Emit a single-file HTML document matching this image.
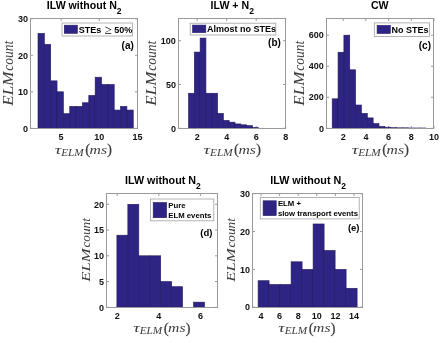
<!DOCTYPE html>
<html><head><meta charset="utf-8"><style>
html,body{margin:0;padding:0;background:#fff;}
svg{display:block;filter:blur(0.35px);}
text{font-family:"Liberation Sans",sans-serif;fill:#000;}
.tk{font-size:9px;font-weight:bold;fill:#111;}
.lg{font-size:9px;font-weight:bold;}
.lg2{font-size:7.75px;font-weight:bold;}
.lg3{font-size:7.75px;font-weight:bold;}
.ge{font-family:"Liberation Serif",serif;font-weight:normal;font-size:13px;}
.pl{font-size:10px;font-weight:bold;}
.ti{font-size:10.6px;font-weight:bold;}
.ti2{font-size:10.75px;font-weight:bold;}
.s2{font-size:8.5px;}
.yl{font-family:"Liberation Serif",serif;font-style:italic;font-size:13.6px;fill:#3c3c3c;}
.ylc{letter-spacing:2.5px;}
.xl{font-family:"Liberation Serif",serif;font-style:italic;font-size:13.5px;fill:#3c3c3c;}
.sub{font-size:10.4px;}
.tau{font-size:13.2px;}
.par{font-style:normal;font-size:15px;stroke:#2a2a2a;stroke-width:0.15px;}
</style></head>
<body><svg width="445" height="343" viewBox="0 0 445 343">
<rect width="445" height="343" fill="#fff"/>
<line x1="61.07" y1="128.50" x2="61.07" y2="126.00" stroke="#9a9a9a" stroke-width="1"/>
<line x1="61.07" y1="18.50" x2="61.07" y2="21.00" stroke="#9a9a9a" stroke-width="1"/>
<text x="61.07" y="139.60" class="tk" text-anchor="middle" >5</text>
<line x1="99.29" y1="128.50" x2="99.29" y2="126.00" stroke="#9a9a9a" stroke-width="1"/>
<line x1="99.29" y1="18.50" x2="99.29" y2="21.00" stroke="#9a9a9a" stroke-width="1"/>
<text x="99.29" y="139.60" class="tk" text-anchor="middle" >10</text>
<line x1="137.50" y1="128.50" x2="137.50" y2="126.00" stroke="#9a9a9a" stroke-width="1"/>
<line x1="137.50" y1="18.50" x2="137.50" y2="21.00" stroke="#9a9a9a" stroke-width="1"/>
<text x="137.50" y="139.60" class="tk" text-anchor="middle" >15</text>
<line x1="30.50" y1="128.30" x2="33.00" y2="128.30" stroke="#9a9a9a" stroke-width="1"/>
<line x1="137.50" y1="128.30" x2="135.00" y2="128.30" stroke="#9a9a9a" stroke-width="1"/>
<text x="27.90" y="131.50" class="tk" text-anchor="end" >0</text>
<line x1="30.50" y1="91.80" x2="33.00" y2="91.80" stroke="#9a9a9a" stroke-width="1"/>
<line x1="137.50" y1="91.80" x2="135.00" y2="91.80" stroke="#9a9a9a" stroke-width="1"/>
<text x="27.90" y="95.00" class="tk" text-anchor="end" >10</text>
<line x1="30.50" y1="55.30" x2="33.00" y2="55.30" stroke="#9a9a9a" stroke-width="1"/>
<line x1="137.50" y1="55.30" x2="135.00" y2="55.30" stroke="#9a9a9a" stroke-width="1"/>
<text x="27.90" y="58.50" class="tk" text-anchor="end" >20</text>
<line x1="30.50" y1="18.80" x2="33.00" y2="18.80" stroke="#9a9a9a" stroke-width="1"/>
<line x1="137.50" y1="18.80" x2="135.00" y2="18.80" stroke="#9a9a9a" stroke-width="1"/>
<text x="27.90" y="22.00" class="tk" text-anchor="end" >30</text>
<rect x="38.00" y="33.40" width="6.35" height="94.90" fill="#2d2483" stroke="#221a60" stroke-width="0.6"/>
<rect x="44.35" y="44.35" width="6.35" height="83.95" fill="#2d2483" stroke="#221a60" stroke-width="0.6"/>
<rect x="50.70" y="80.85" width="6.35" height="47.45" fill="#2d2483" stroke="#221a60" stroke-width="0.6"/>
<rect x="57.05" y="91.80" width="6.35" height="36.50" fill="#2d2483" stroke="#221a60" stroke-width="0.6"/>
<rect x="63.40" y="113.70" width="6.35" height="14.60" fill="#2d2483" stroke="#221a60" stroke-width="0.6"/>
<rect x="69.75" y="106.40" width="6.35" height="21.90" fill="#2d2483" stroke="#221a60" stroke-width="0.6"/>
<rect x="76.10" y="106.40" width="6.35" height="21.90" fill="#2d2483" stroke="#221a60" stroke-width="0.6"/>
<rect x="82.45" y="102.75" width="6.35" height="25.55" fill="#2d2483" stroke="#221a60" stroke-width="0.6"/>
<rect x="88.80" y="95.45" width="6.35" height="32.85" fill="#2d2483" stroke="#221a60" stroke-width="0.6"/>
<rect x="95.15" y="77.20" width="6.35" height="51.10" fill="#2d2483" stroke="#221a60" stroke-width="0.6"/>
<rect x="101.50" y="84.50" width="6.35" height="43.80" fill="#2d2483" stroke="#221a60" stroke-width="0.6"/>
<rect x="107.85" y="84.50" width="6.35" height="43.80" fill="#2d2483" stroke="#221a60" stroke-width="0.6"/>
<rect x="114.20" y="110.05" width="6.35" height="18.25" fill="#2d2483" stroke="#221a60" stroke-width="0.6"/>
<rect x="120.55" y="106.40" width="6.35" height="21.90" fill="#2d2483" stroke="#221a60" stroke-width="0.6"/>
<rect x="126.90" y="110.05" width="6.35" height="18.25" fill="#2d2483" stroke="#221a60" stroke-width="0.6"/>
<rect x="30.50" y="18.50" width="107.00" height="110.00" fill="none" stroke="#9a9a9a" stroke-width="1"/>
<rect x="62.00" y="23.00" width="70.50" height="13.00" fill="#fff" stroke="#a0a0a0" stroke-width="0.8"/>
<rect x="64.30" y="25.20" width="13.10" height="8.10" fill="#2d2483" stroke="#221a60" stroke-width="0.6"/>
<text x="78.70" y="32.70" class="lg" text-anchor="start" >STEs</text>
<text x="104.50" y="33.70" class="lg" text-anchor="start" ><tspan class="ge">≥</tspan></text>
<text x="114.30" y="32.70" class="lg" text-anchor="start" >50%</text>
<text x="133.80" y="48.60" class="pl" text-anchor="end" >(a)</text>
<text x="46.80" y="8.90" class="ti" text-anchor="start" >ILW without N<tspan class="s2" dy="5">2</tspan></text>
<g transform="translate(12.80,106.00) rotate(-90)"><text class="yl" style="font-size:13.6px" x="0.3" y="0" textLength="34.00" lengthAdjust="spacingAndGlyphs">ELM</text><text class="yl" style="font-size:13.6px" x="35.20" y="0" textLength="30.00" lengthAdjust="spacingAndGlyphs">count</text></g>
<text class="xl tau" x="54.70" y="153.60" textLength="6.6" lengthAdjust="spacingAndGlyphs">τ</text>
<text class="xl sub" x="61.20" y="156.10" textLength="22.60" lengthAdjust="spacingAndGlyphs">ELM</text>
<text class="xl par" x="85.20" y="154.30">(</text>
<text class="xl" x="89.60" y="153.60" textLength="17.40" lengthAdjust="spacingAndGlyphs">ms</text>
<text class="xl par" x="107.00" y="154.30">)</text>
<line x1="197.20" y1="128.50" x2="197.20" y2="126.00" stroke="#9a9a9a" stroke-width="1"/>
<line x1="197.20" y1="18.50" x2="197.20" y2="21.00" stroke="#9a9a9a" stroke-width="1"/>
<text x="197.20" y="139.80" class="tk" text-anchor="middle" >2</text>
<line x1="226.70" y1="128.50" x2="226.70" y2="126.00" stroke="#9a9a9a" stroke-width="1"/>
<line x1="226.70" y1="18.50" x2="226.70" y2="21.00" stroke="#9a9a9a" stroke-width="1"/>
<text x="226.70" y="139.80" class="tk" text-anchor="middle" >4</text>
<line x1="256.20" y1="128.50" x2="256.20" y2="126.00" stroke="#9a9a9a" stroke-width="1"/>
<line x1="256.20" y1="18.50" x2="256.20" y2="21.00" stroke="#9a9a9a" stroke-width="1"/>
<text x="256.20" y="139.80" class="tk" text-anchor="middle" >6</text>
<line x1="285.70" y1="128.50" x2="285.70" y2="126.00" stroke="#9a9a9a" stroke-width="1"/>
<line x1="285.70" y1="18.50" x2="285.70" y2="21.00" stroke="#9a9a9a" stroke-width="1"/>
<text x="285.70" y="139.80" class="tk" text-anchor="middle" >8</text>
<line x1="178.50" y1="128.30" x2="181.00" y2="128.30" stroke="#9a9a9a" stroke-width="1"/>
<line x1="285.50" y1="128.30" x2="283.00" y2="128.30" stroke="#9a9a9a" stroke-width="1"/>
<text x="175.90" y="131.50" class="tk" text-anchor="end" >0</text>
<line x1="178.50" y1="84.50" x2="181.00" y2="84.50" stroke="#9a9a9a" stroke-width="1"/>
<line x1="285.50" y1="84.50" x2="283.00" y2="84.50" stroke="#9a9a9a" stroke-width="1"/>
<text x="175.90" y="87.70" class="tk" text-anchor="end" >50</text>
<line x1="178.50" y1="40.70" x2="181.00" y2="40.70" stroke="#9a9a9a" stroke-width="1"/>
<line x1="285.50" y1="40.70" x2="283.00" y2="40.70" stroke="#9a9a9a" stroke-width="1"/>
<text x="175.90" y="43.90" class="tk" text-anchor="end" >100</text>
<rect x="188.50" y="93.26" width="5.81" height="35.04" fill="#2d2483" stroke="#221a60" stroke-width="0.6"/>
<rect x="194.31" y="52.09" width="5.81" height="76.21" fill="#2d2483" stroke="#221a60" stroke-width="0.6"/>
<rect x="200.12" y="38.07" width="5.81" height="90.23" fill="#2d2483" stroke="#221a60" stroke-width="0.6"/>
<rect x="205.93" y="93.26" width="5.81" height="35.04" fill="#2d2483" stroke="#221a60" stroke-width="0.6"/>
<rect x="211.74" y="93.26" width="5.81" height="35.04" fill="#2d2483" stroke="#221a60" stroke-width="0.6"/>
<rect x="217.55" y="113.41" width="5.81" height="14.89" fill="#2d2483" stroke="#221a60" stroke-width="0.6"/>
<rect x="223.36" y="120.42" width="5.81" height="7.88" fill="#2d2483" stroke="#221a60" stroke-width="0.6"/>
<rect x="229.17" y="122.17" width="5.81" height="6.13" fill="#2d2483" stroke="#221a60" stroke-width="0.6"/>
<rect x="234.98" y="123.92" width="5.81" height="4.38" fill="#2d2483" stroke="#221a60" stroke-width="0.6"/>
<rect x="240.79" y="124.80" width="5.81" height="3.50" fill="#2d2483" stroke="#221a60" stroke-width="0.6"/>
<rect x="246.60" y="125.67" width="5.81" height="2.63" fill="#2d2483" stroke="#221a60" stroke-width="0.6"/>
<rect x="252.41" y="127.42" width="5.81" height="0.88" fill="#2d2483" stroke="#221a60" stroke-width="0.6"/>
<rect x="178.50" y="18.50" width="107.00" height="110.00" fill="none" stroke="#9a9a9a" stroke-width="1"/>
<rect x="190.20" y="23.20" width="85.60" height="11.80" fill="#fff" stroke="#a0a0a0" stroke-width="0.8"/>
<rect x="192.60" y="25.10" width="13.20" height="7.50" fill="#2d2483" stroke="#221a60" stroke-width="0.6"/>
<text x="206.90" y="32.20" class="lg" text-anchor="start" >Almost no STEs</text>
<text x="280.90" y="46.20" class="pl" text-anchor="end" >(b)</text>
<text x="210.60" y="8.70" class="ti" text-anchor="start" >ILW + N<tspan class="s2" dy="5">2</tspan></text>
<g transform="translate(156.00,106.00) rotate(-90)"><text class="yl" style="font-size:13.6px" x="0.3" y="0" textLength="34.00" lengthAdjust="spacingAndGlyphs">ELM</text><text class="yl" style="font-size:13.6px" x="35.20" y="0" textLength="30.00" lengthAdjust="spacingAndGlyphs">count</text></g>
<text class="xl tau" x="203.60" y="153.60" textLength="6.6" lengthAdjust="spacingAndGlyphs">τ</text>
<text class="xl sub" x="210.10" y="156.10" textLength="22.60" lengthAdjust="spacingAndGlyphs">ELM</text>
<text class="xl par" x="234.10" y="154.30">(</text>
<text class="xl" x="238.50" y="153.60" textLength="17.40" lengthAdjust="spacingAndGlyphs">ms</text>
<text class="xl par" x="255.90" y="154.30">)</text>
<line x1="343.20" y1="128.50" x2="343.20" y2="126.00" stroke="#9a9a9a" stroke-width="1"/>
<line x1="343.20" y1="18.50" x2="343.20" y2="21.00" stroke="#9a9a9a" stroke-width="1"/>
<text x="343.20" y="139.80" class="tk" text-anchor="middle" >2</text>
<line x1="365.90" y1="128.50" x2="365.90" y2="126.00" stroke="#9a9a9a" stroke-width="1"/>
<line x1="365.90" y1="18.50" x2="365.90" y2="21.00" stroke="#9a9a9a" stroke-width="1"/>
<text x="365.90" y="139.80" class="tk" text-anchor="middle" >4</text>
<line x1="388.60" y1="128.50" x2="388.60" y2="126.00" stroke="#9a9a9a" stroke-width="1"/>
<line x1="388.60" y1="18.50" x2="388.60" y2="21.00" stroke="#9a9a9a" stroke-width="1"/>
<text x="388.60" y="139.80" class="tk" text-anchor="middle" >6</text>
<line x1="411.30" y1="128.50" x2="411.30" y2="126.00" stroke="#9a9a9a" stroke-width="1"/>
<line x1="411.30" y1="18.50" x2="411.30" y2="21.00" stroke="#9a9a9a" stroke-width="1"/>
<text x="411.30" y="139.80" class="tk" text-anchor="middle" >8</text>
<line x1="434.00" y1="128.50" x2="434.00" y2="126.00" stroke="#9a9a9a" stroke-width="1"/>
<line x1="434.00" y1="18.50" x2="434.00" y2="21.00" stroke="#9a9a9a" stroke-width="1"/>
<text x="434.00" y="139.80" class="tk" text-anchor="middle" >10</text>
<line x1="326.50" y1="128.30" x2="329.00" y2="128.30" stroke="#9a9a9a" stroke-width="1"/>
<line x1="433.50" y1="128.30" x2="431.00" y2="128.30" stroke="#9a9a9a" stroke-width="1"/>
<text x="323.90" y="131.50" class="tk" text-anchor="end" >0</text>
<line x1="326.50" y1="97.26" x2="329.00" y2="97.26" stroke="#9a9a9a" stroke-width="1"/>
<line x1="433.50" y1="97.26" x2="431.00" y2="97.26" stroke="#9a9a9a" stroke-width="1"/>
<text x="323.90" y="100.46" class="tk" text-anchor="end" >200</text>
<line x1="326.50" y1="66.22" x2="329.00" y2="66.22" stroke="#9a9a9a" stroke-width="1"/>
<line x1="433.50" y1="66.22" x2="431.00" y2="66.22" stroke="#9a9a9a" stroke-width="1"/>
<text x="323.90" y="69.42" class="tk" text-anchor="end" >400</text>
<line x1="326.50" y1="35.18" x2="329.00" y2="35.18" stroke="#9a9a9a" stroke-width="1"/>
<line x1="433.50" y1="35.18" x2="431.00" y2="35.18" stroke="#9a9a9a" stroke-width="1"/>
<text x="323.90" y="38.38" class="tk" text-anchor="end" >600</text>
<rect x="332.20" y="98.81" width="5.85" height="29.49" fill="#2d2483" stroke="#221a60" stroke-width="0.6"/>
<rect x="338.05" y="52.25" width="5.85" height="76.05" fill="#2d2483" stroke="#221a60" stroke-width="0.6"/>
<rect x="343.90" y="35.18" width="5.85" height="93.12" fill="#2d2483" stroke="#221a60" stroke-width="0.6"/>
<rect x="349.75" y="69.79" width="5.85" height="58.51" fill="#2d2483" stroke="#221a60" stroke-width="0.6"/>
<rect x="355.60" y="105.02" width="5.85" height="23.28" fill="#2d2483" stroke="#221a60" stroke-width="0.6"/>
<rect x="361.45" y="113.40" width="5.85" height="14.90" fill="#2d2483" stroke="#221a60" stroke-width="0.6"/>
<rect x="367.30" y="117.90" width="5.85" height="10.40" fill="#2d2483" stroke="#221a60" stroke-width="0.6"/>
<rect x="373.15" y="123.64" width="5.85" height="4.66" fill="#2d2483" stroke="#221a60" stroke-width="0.6"/>
<rect x="379.00" y="126.44" width="5.85" height="1.86" fill="#2d2483" stroke="#221a60" stroke-width="0.6"/>
<rect x="384.85" y="127.21" width="5.85" height="1.09" fill="#2d2483" stroke="#221a60" stroke-width="0.6"/>
<rect x="390.70" y="127.68" width="5.85" height="0.62" fill="#2d2483" stroke="#221a60" stroke-width="0.6"/>
<rect x="396.55" y="127.83" width="5.85" height="0.47" fill="#2d2483" stroke="#221a60" stroke-width="0.6"/>
<rect x="402.40" y="127.83" width="5.85" height="0.47" fill="#2d2483" stroke="#221a60" stroke-width="0.6"/>
<rect x="408.25" y="127.99" width="5.85" height="0.31" fill="#2d2483" stroke="#221a60" stroke-width="0.6"/>
<rect x="414.10" y="127.99" width="5.85" height="0.31" fill="#2d2483" stroke="#221a60" stroke-width="0.6"/>
<rect x="419.95" y="127.99" width="5.85" height="0.31" fill="#2d2483" stroke="#221a60" stroke-width="0.6"/>
<rect x="326.50" y="18.50" width="107.00" height="110.00" fill="none" stroke="#9a9a9a" stroke-width="1"/>
<rect x="374.30" y="22.90" width="55.30" height="13.50" fill="#fff" stroke="#a0a0a0" stroke-width="0.8"/>
<rect x="377.10" y="25.40" width="13.20" height="8.10" fill="#2d2483" stroke="#221a60" stroke-width="0.6"/>
<text x="391.50" y="32.60" class="lg" text-anchor="start" >No STEs</text>
<text x="431.00" y="49.20" class="pl" text-anchor="end" >(c)</text>
<text x="370.90" y="9.00" class="ti" text-anchor="start" >CW</text>
<g transform="translate(304.40,106.00) rotate(-90)"><text class="yl" style="font-size:13.6px" x="0.3" y="0" textLength="34.00" lengthAdjust="spacingAndGlyphs">ELM</text><text class="yl" style="font-size:13.6px" x="35.20" y="0" textLength="30.00" lengthAdjust="spacingAndGlyphs">count</text></g>
<text class="xl tau" x="351.70" y="153.60" textLength="6.6" lengthAdjust="spacingAndGlyphs">τ</text>
<text class="xl sub" x="358.20" y="156.10" textLength="22.60" lengthAdjust="spacingAndGlyphs">ELM</text>
<text class="xl par" x="382.20" y="154.30">(</text>
<text class="xl" x="386.60" y="153.60" textLength="17.40" lengthAdjust="spacingAndGlyphs">ms</text>
<text class="xl par" x="404.00" y="154.30">)</text>
<line x1="117.20" y1="307.50" x2="117.20" y2="305.00" stroke="#9a9a9a" stroke-width="1"/>
<line x1="117.20" y1="193.50" x2="117.20" y2="196.00" stroke="#9a9a9a" stroke-width="1"/>
<text x="117.20" y="318.70" class="tk" text-anchor="middle" >2</text>
<line x1="158.80" y1="307.50" x2="158.80" y2="305.00" stroke="#9a9a9a" stroke-width="1"/>
<line x1="158.80" y1="193.50" x2="158.80" y2="196.00" stroke="#9a9a9a" stroke-width="1"/>
<text x="158.80" y="318.70" class="tk" text-anchor="middle" >4</text>
<line x1="200.40" y1="307.50" x2="200.40" y2="305.00" stroke="#9a9a9a" stroke-width="1"/>
<line x1="200.40" y1="193.50" x2="200.40" y2="196.00" stroke="#9a9a9a" stroke-width="1"/>
<text x="200.40" y="318.70" class="tk" text-anchor="middle" >6</text>
<line x1="106.50" y1="307.30" x2="109.00" y2="307.30" stroke="#9a9a9a" stroke-width="1"/>
<line x1="217.50" y1="307.30" x2="215.00" y2="307.30" stroke="#9a9a9a" stroke-width="1"/>
<text x="103.90" y="310.50" class="tk" text-anchor="end" >0</text>
<line x1="106.50" y1="281.55" x2="109.00" y2="281.55" stroke="#9a9a9a" stroke-width="1"/>
<line x1="217.50" y1="281.55" x2="215.00" y2="281.55" stroke="#9a9a9a" stroke-width="1"/>
<text x="103.90" y="284.75" class="tk" text-anchor="end" >5</text>
<line x1="106.50" y1="255.80" x2="109.00" y2="255.80" stroke="#9a9a9a" stroke-width="1"/>
<line x1="217.50" y1="255.80" x2="215.00" y2="255.80" stroke="#9a9a9a" stroke-width="1"/>
<text x="103.90" y="259.00" class="tk" text-anchor="end" >10</text>
<line x1="106.50" y1="230.05" x2="109.00" y2="230.05" stroke="#9a9a9a" stroke-width="1"/>
<line x1="217.50" y1="230.05" x2="215.00" y2="230.05" stroke="#9a9a9a" stroke-width="1"/>
<text x="103.90" y="233.25" class="tk" text-anchor="end" >15</text>
<line x1="106.50" y1="204.30" x2="109.00" y2="204.30" stroke="#9a9a9a" stroke-width="1"/>
<line x1="217.50" y1="204.30" x2="215.00" y2="204.30" stroke="#9a9a9a" stroke-width="1"/>
<text x="103.90" y="207.50" class="tk" text-anchor="end" >20</text>
<rect x="116.90" y="235.20" width="10.95" height="72.10" fill="#2d2483" stroke="#221a60" stroke-width="0.6"/>
<rect x="127.85" y="204.30" width="10.95" height="103.00" fill="#2d2483" stroke="#221a60" stroke-width="0.6"/>
<rect x="138.80" y="255.80" width="10.95" height="51.50" fill="#2d2483" stroke="#221a60" stroke-width="0.6"/>
<rect x="149.75" y="255.80" width="10.95" height="51.50" fill="#2d2483" stroke="#221a60" stroke-width="0.6"/>
<rect x="160.70" y="281.55" width="10.95" height="25.75" fill="#2d2483" stroke="#221a60" stroke-width="0.6"/>
<rect x="171.65" y="286.70" width="10.95" height="20.60" fill="#2d2483" stroke="#221a60" stroke-width="0.6"/>
<rect x="193.55" y="302.15" width="10.95" height="5.15" fill="#2d2483" stroke="#221a60" stroke-width="0.6"/>
<rect x="106.50" y="193.50" width="111.00" height="114.00" fill="none" stroke="#9a9a9a" stroke-width="1"/>
<rect x="150.50" y="199.00" width="63.30" height="21.80" fill="#fff" stroke="#a0a0a0" stroke-width="0.8"/>
<rect x="153.20" y="202.50" width="13.40" height="15.20" fill="#2d2483" stroke="#221a60" stroke-width="0.6"/>
<text x="168.30" y="207.90" class="lg2" text-anchor="start" >Pure</text>
<text x="168.30" y="218.00" class="lg2" text-anchor="start" >ELM events</text>
<text x="212.50" y="236.00" class="pl" text-anchor="end" style="font-size:9.5px">(d)</text>
<text x="125.00" y="184.10" class="ti2" text-anchor="start" >ILW without N<tspan class="s2" dy="5">2</tspan></text>
<g transform="translate(89.70,282.00) rotate(-90)"><text class="yl" style="font-size:13.0px" x="0.3" y="0" textLength="33.32" lengthAdjust="spacingAndGlyphs">ELM</text><text class="yl" style="font-size:13.0px" x="34.50" y="0" textLength="29.40" lengthAdjust="spacingAndGlyphs">count</text></g>
<text class="xl tau" x="133.20" y="331.80" textLength="6.6" lengthAdjust="spacingAndGlyphs">τ</text>
<text class="xl sub" x="139.70" y="334.30" textLength="22.60" lengthAdjust="spacingAndGlyphs">ELM</text>
<text class="xl par" x="163.70" y="332.50">(</text>
<text class="xl" x="168.10" y="331.80" textLength="17.40" lengthAdjust="spacingAndGlyphs">ms</text>
<text class="xl par" x="185.50" y="332.50">)</text>
<line x1="261.00" y1="307.50" x2="261.00" y2="305.00" stroke="#9a9a9a" stroke-width="1"/>
<line x1="261.00" y1="193.50" x2="261.00" y2="196.00" stroke="#9a9a9a" stroke-width="1"/>
<text x="261.00" y="318.70" class="tk" text-anchor="middle" >4</text>
<line x1="279.60" y1="307.50" x2="279.60" y2="305.00" stroke="#9a9a9a" stroke-width="1"/>
<line x1="279.60" y1="193.50" x2="279.60" y2="196.00" stroke="#9a9a9a" stroke-width="1"/>
<text x="279.60" y="318.70" class="tk" text-anchor="middle" >6</text>
<line x1="298.20" y1="307.50" x2="298.20" y2="305.00" stroke="#9a9a9a" stroke-width="1"/>
<line x1="298.20" y1="193.50" x2="298.20" y2="196.00" stroke="#9a9a9a" stroke-width="1"/>
<text x="298.20" y="318.70" class="tk" text-anchor="middle" >8</text>
<line x1="316.80" y1="307.50" x2="316.80" y2="305.00" stroke="#9a9a9a" stroke-width="1"/>
<line x1="316.80" y1="193.50" x2="316.80" y2="196.00" stroke="#9a9a9a" stroke-width="1"/>
<text x="316.80" y="318.70" class="tk" text-anchor="middle" >10</text>
<line x1="335.40" y1="307.50" x2="335.40" y2="305.00" stroke="#9a9a9a" stroke-width="1"/>
<line x1="335.40" y1="193.50" x2="335.40" y2="196.00" stroke="#9a9a9a" stroke-width="1"/>
<text x="335.40" y="318.70" class="tk" text-anchor="middle" >12</text>
<line x1="354.00" y1="307.50" x2="354.00" y2="305.00" stroke="#9a9a9a" stroke-width="1"/>
<line x1="354.00" y1="193.50" x2="354.00" y2="196.00" stroke="#9a9a9a" stroke-width="1"/>
<text x="354.00" y="318.70" class="tk" text-anchor="middle" >14</text>
<line x1="252.50" y1="307.20" x2="255.00" y2="307.20" stroke="#9a9a9a" stroke-width="1"/>
<line x1="362.50" y1="307.20" x2="360.00" y2="307.20" stroke="#9a9a9a" stroke-width="1"/>
<text x="249.90" y="310.40" class="tk" text-anchor="end" >0</text>
<line x1="252.50" y1="269.37" x2="255.00" y2="269.37" stroke="#9a9a9a" stroke-width="1"/>
<line x1="362.50" y1="269.37" x2="360.00" y2="269.37" stroke="#9a9a9a" stroke-width="1"/>
<text x="249.90" y="272.57" class="tk" text-anchor="end" >10</text>
<line x1="252.50" y1="231.53" x2="255.00" y2="231.53" stroke="#9a9a9a" stroke-width="1"/>
<line x1="362.50" y1="231.53" x2="360.00" y2="231.53" stroke="#9a9a9a" stroke-width="1"/>
<text x="249.90" y="234.73" class="tk" text-anchor="end" >20</text>
<line x1="252.50" y1="193.70" x2="255.00" y2="193.70" stroke="#9a9a9a" stroke-width="1"/>
<line x1="362.50" y1="193.70" x2="360.00" y2="193.70" stroke="#9a9a9a" stroke-width="1"/>
<text x="249.90" y="196.90" class="tk" text-anchor="end" >30</text>
<rect x="258.10" y="280.72" width="11.00" height="26.48" fill="#2d2483" stroke="#221a60" stroke-width="0.6"/>
<rect x="269.10" y="284.50" width="11.00" height="22.70" fill="#2d2483" stroke="#221a60" stroke-width="0.6"/>
<rect x="280.10" y="284.50" width="11.00" height="22.70" fill="#2d2483" stroke="#221a60" stroke-width="0.6"/>
<rect x="291.10" y="261.80" width="11.00" height="45.40" fill="#2d2483" stroke="#221a60" stroke-width="0.6"/>
<rect x="302.10" y="269.37" width="11.00" height="37.83" fill="#2d2483" stroke="#221a60" stroke-width="0.6"/>
<rect x="313.10" y="223.97" width="11.00" height="83.23" fill="#2d2483" stroke="#221a60" stroke-width="0.6"/>
<rect x="324.10" y="250.45" width="11.00" height="56.75" fill="#2d2483" stroke="#221a60" stroke-width="0.6"/>
<rect x="335.10" y="269.37" width="11.00" height="37.83" fill="#2d2483" stroke="#221a60" stroke-width="0.6"/>
<rect x="346.10" y="288.28" width="11.00" height="18.92" fill="#2d2483" stroke="#221a60" stroke-width="0.6"/>
<rect x="252.50" y="193.50" width="110.00" height="114.00" fill="none" stroke="#9a9a9a" stroke-width="1"/>
<rect x="260.30" y="197.60" width="98.90" height="21.30" fill="#fff" stroke="#a0a0a0" stroke-width="0.8"/>
<rect x="263.10" y="200.80" width="13.10" height="14.80" fill="#2d2483" stroke="#221a60" stroke-width="0.6"/>
<text x="277.90" y="206.20" class="lg3" text-anchor="start" >ELM +</text>
<text x="277.90" y="215.60" class="lg3" text-anchor="start" >slow transport events</text>
<text x="359.50" y="231.40" class="pl" text-anchor="end" style="font-size:9.5px">(e)</text>
<text x="270.20" y="184.40" class="ti2" text-anchor="start" >ILW without N<tspan class="s2" dy="5">2</tspan></text>
<g transform="translate(234.70,282.00) rotate(-90)"><text class="yl" style="font-size:13.0px" x="0.3" y="0" textLength="33.32" lengthAdjust="spacingAndGlyphs">ELM</text><text class="yl" style="font-size:13.0px" x="34.50" y="0" textLength="29.40" lengthAdjust="spacingAndGlyphs">count</text></g>
<text class="xl tau" x="278.20" y="331.80" textLength="6.6" lengthAdjust="spacingAndGlyphs">τ</text>
<text class="xl sub" x="284.70" y="334.30" textLength="22.60" lengthAdjust="spacingAndGlyphs">ELM</text>
<text class="xl par" x="308.70" y="332.50">(</text>
<text class="xl" x="313.10" y="331.80" textLength="17.40" lengthAdjust="spacingAndGlyphs">ms</text>
<text class="xl par" x="330.50" y="332.50">)</text>
</svg></body></html>
